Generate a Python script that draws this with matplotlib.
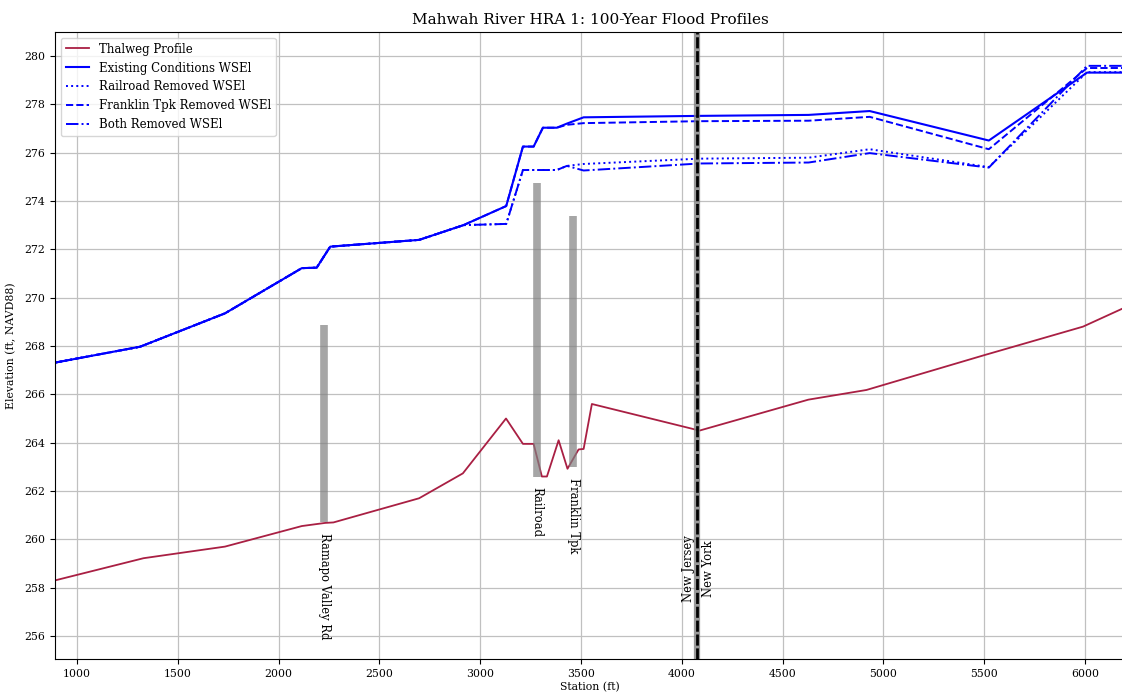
import numpy as np
import matplotlib
matplotlib.use("Agg")
import matplotlib.pyplot as plt

plt.rcParams['font.family'] = ['DejaVu Serif']

# Thalweg profile (station ft, elevation ft)
thalweg_sta = [890, 1330, 1734, 2115, 2231, 2272, 2697, 2914, 3128, 3212, 3265,
               3306, 3331, 3389, 3433, 3488, 3513, 3554, 4088, 4628, 4916, 5500,
               5990, 6200]
thalweg_elev = [258.30, 259.22, 259.70, 260.55, 260.68, 260.70, 261.70, 262.73,
                265.00, 263.95, 263.95, 262.60, 262.60, 264.10, 262.92, 263.72,
                263.74, 265.60, 264.50, 265.78, 266.18, 267.62, 268.80, 269.60]

# Water surface profiles, shared stations
wse_sta = [890, 1313, 1734, 2115, 2189, 2256, 2697, 2917, 3129, 3212, 3265,
           3311, 3380, 3430, 3513, 4088, 4629, 4932, 5523, 6010, 6200]
existing = [267.31, 267.97, 269.35, 271.22, 271.24, 272.11, 272.39, 273.00,
            273.79, 276.25, 276.25, 277.03, 277.03, 277.20, 277.46, 277.52,
            277.56, 277.72, 276.50, 279.31, 279.31]
railroad_removed = [267.31, 267.97, 269.35, 271.22, 271.24, 272.11, 272.39, 273.00,
                    273.05, 275.28, 275.28, 275.28, 275.28, 275.45, 275.53, 275.75,
                    275.79, 276.14, 275.40, 279.33, 279.33]
franklin_removed = [267.31, 267.97, 269.35, 271.22, 271.24, 272.11, 272.39, 273.00,
                    273.79, 276.25, 276.25, 277.03, 277.03, 277.15, 277.22, 277.30,
                    277.32, 277.48, 276.14, 279.50, 279.50]
both_removed = [267.31, 267.97, 269.35, 271.22, 271.24, 272.11, 272.39, 273.00,
                273.05, 275.28, 275.28, 275.28, 275.28, 275.45, 275.26, 275.55,
                275.59, 275.98, 275.38, 279.59, 279.59]

# Structures: name, station, low, high
struct_names = ['Ramapo Valley Rd', 'Railroad', 'Franklin Tpk']
struct_sta = [2226, 3283, 3462]
struct_low = [260.72, 262.60, 262.98]
struct_high = [268.87, 274.75, 273.38]

state_line = 4077

fig = plt.figure(figsize=(11.22, 6.92), dpi=100)
ax = fig.add_axes([55 / 1122, 33 / 692, 1070 / 1122, 627 / 692])

ax.plot(thalweg_sta, thalweg_elev, color='#a91f43', lw=1.3, label='Thalweg Profile')
ax.plot(wse_sta, existing, color='blue', lw=1.5, label='Existing Conditions WSEl')
ax.plot(wse_sta, railroad_removed, color='blue', lw=1.4, ls=':', label='Railroad Removed WSEl')
ax.plot(wse_sta, franklin_removed, color='blue', lw=1.4, ls='--', label='Franklin Tpk Removed WSEl')
ax.plot(wse_sta, both_removed, color='blue', lw=1.4, ls='-.', label='Both Removed WSEl')

for name, s, lo, hi in zip(struct_names, struct_sta, struct_low, struct_high):
    ax.plot([s, s], [lo, hi], color='gray', lw=5.5, alpha=0.7, solid_capstyle='butt')
    ax.text(s, lo - 0.45, name, rotation=-90, ha='center', va='top', fontsize=8.3)

ax.axvline(state_line, color='gray', lw=4.5, alpha=0.8)
ax.axvline(state_line, color='black', lw=2, ls=(0, (4, 1)))
ax.text(state_line - 45, 258.8, 'New Jersey', rotation=90, ha='center', va='center', fontsize=8.3)
ax.text(state_line + 55, 258.8, 'New York', rotation=90, ha='center', va='center', fontsize=8.3)

ax.set_xlim(890.8, 6198.5)
ax.set_ylim(255.05, 280.99)
ax.set_xticks(np.arange(1000, 6001, 500))
ax.set_yticks(np.arange(256, 281, 2))
ax.tick_params(labelsize=7.8)
ax.grid(True, color='#c0c0c0', lw=0.9)
ax.set_axisbelow(True)

ax.set_title('Mahwah River HRA 1: 100-Year Flood Profiles', fontsize=11, pad=6)
ax.set_xlabel('Station (ft)', fontsize=7.8, labelpad=2)
ax.set_ylabel('Elevation (ft, NAVD88)', fontsize=7.8, labelpad=6)
ax.legend(loc='upper left', fontsize=8.5)

fig.savefig('out.png', dpi=100)
